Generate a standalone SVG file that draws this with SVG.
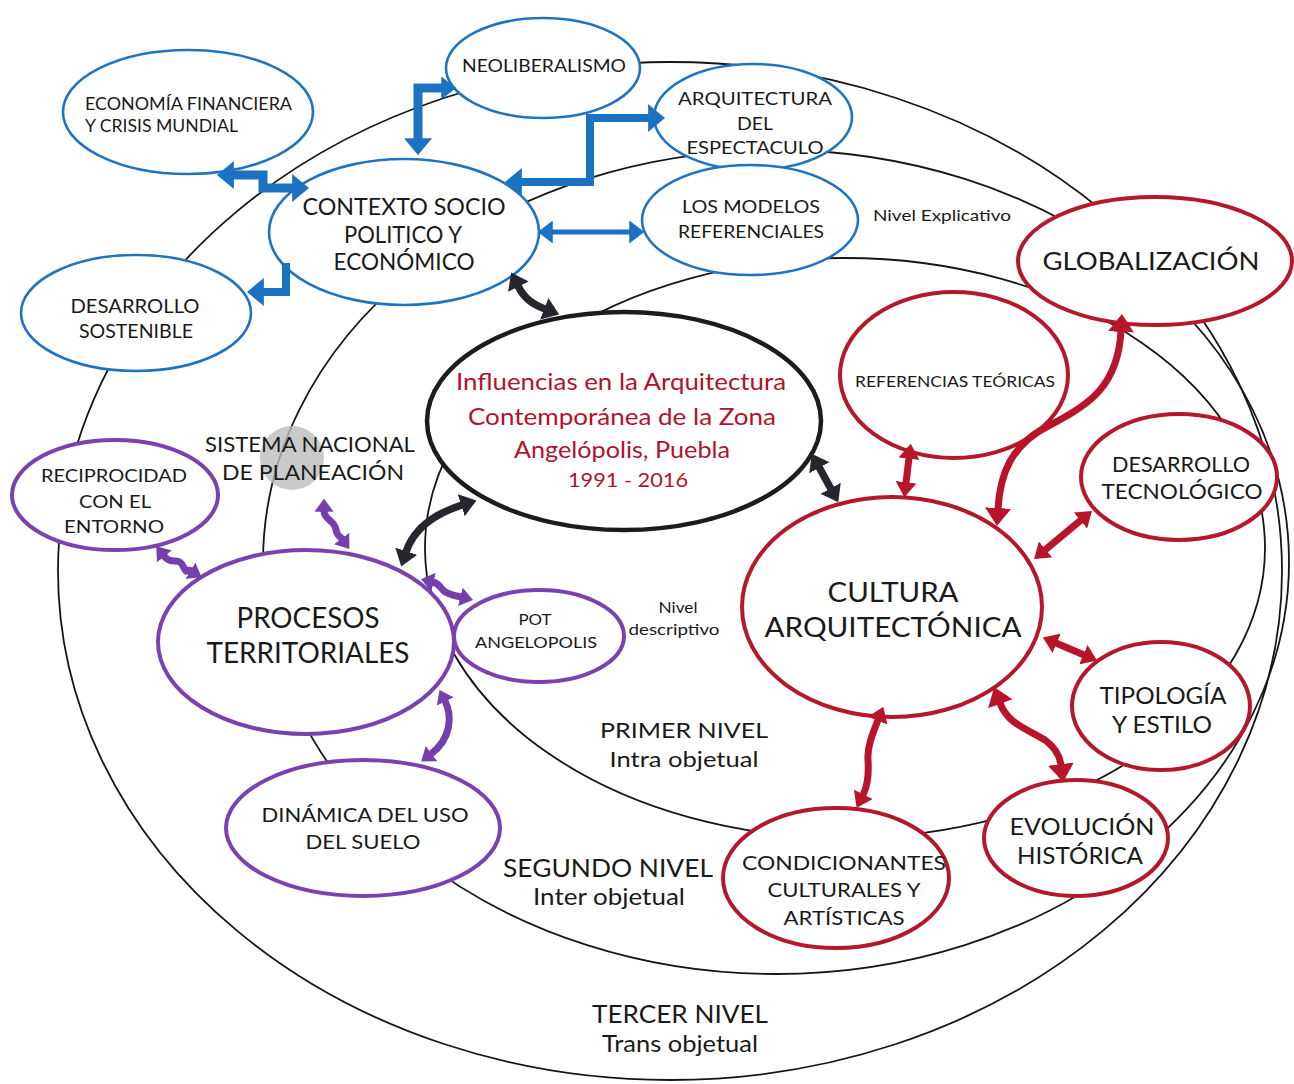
<svg xmlns="http://www.w3.org/2000/svg" width="1294" height="1084" viewBox="0 0 1294 1084">
<style>
.ring{fill:none;stroke:#161616;stroke-width:1.8}
.nb{fill:#fff;stroke:#1f74c2;stroke-width:2.6}
.nr{fill:#fff;stroke:#b5172b;stroke-width:4}
.np{fill:#fff;stroke:#7a42b0;stroke-width:4}
.nk{fill:#fff;stroke:#1c1c1c;stroke-width:4.5}
text{font-family:Lato,'Liberation Sans',sans-serif;fill:#1a1a1a;text-anchor:middle}
.red{fill:#b1122d}
.cb{fill:none;stroke:#1b72c1;stroke-linejoin:miter}
.ck{fill:none;stroke:#26262e;stroke-width:7.5}
.cp{fill:none;stroke:#7540ad;stroke-width:7}
.cr{fill:none;stroke:#b8152a;stroke-width:7}
</style>
<defs>
<marker id="ab" viewBox="0 0 10 10" refX="0.5" refY="5" markerUnits="userSpaceOnUse" markerWidth="17" markerHeight="28" orient="auto-start-reverse" preserveAspectRatio="none"><path d="M0,0 L10,5 L0,10 z" fill="#1b72c1"/></marker>
<marker id="abs" viewBox="0 0 10 10" refX="0.5" refY="5" markerUnits="userSpaceOnUse" markerWidth="15" markerHeight="23" orient="auto-start-reverse" preserveAspectRatio="none"><path d="M0,0 L10,5 L0,10 z" fill="#1b72c1"/></marker>
<marker id="ak" viewBox="0 0 10 10" refX="0.5" refY="5" markerUnits="userSpaceOnUse" markerWidth="16" markerHeight="23" orient="auto-start-reverse" preserveAspectRatio="none"><path d="M0,0 L10,5 L0,10 z" fill="#26262e"/></marker>
<marker id="ap" viewBox="0 0 10 10" refX="0.5" refY="5" markerUnits="userSpaceOnUse" markerWidth="13" markerHeight="19" orient="auto-start-reverse" preserveAspectRatio="none"><path d="M0,0 L10,5 L0,10 z" fill="#7540ad"/></marker>
<marker id="ar" viewBox="0 0 10 10" refX="0.5" refY="5" markerUnits="userSpaceOnUse" markerWidth="15" markerHeight="21" orient="auto-start-reverse" preserveAspectRatio="none"><path d="M0,0 L10,5 L0,10 z" fill="#b8152a"/></marker>
<marker id="arb" viewBox="0 0 10 10" refX="0.5" refY="5" markerUnits="userSpaceOnUse" markerWidth="18" markerHeight="26" orient="auto-start-reverse" preserveAspectRatio="none"><path d="M0,0 L10,5 L0,10 z" fill="#b8152a"/></marker>
</defs>
<rect width="1294" height="1084" fill="#fff"/>

<g id="rings">
<ellipse class="ring" cx="670" cy="571" rx="612" ry="509"/>
<ellipse class="ring" cx="776" cy="562" rx="513" ry="412"/>
<ellipse class="ring" cx="845" cy="548" rx="420" ry="290"/>
</g>

<g id="label-sistema">
<circle cx="292" cy="458" r="32" fill="#bdbdbd" fill-opacity="0.8"/>
<text x="310" y="452" font-size="21" textLength="210" lengthAdjust="spacingAndGlyphs">SISTEMA NACIONAL</text>
<text x="313" y="480" font-size="21" textLength="182" lengthAdjust="spacingAndGlyphs">DE  PLANEACIÓN</text>
</g>

<g id="level-labels">
<text x="942" y="221" font-size="16" textLength="138" lengthAdjust="spacingAndGlyphs">Nivel Explicativo</text>
<text x="678" y="613" font-size="15" textLength="39" lengthAdjust="spacingAndGlyphs">Nivel</text>
<text x="674" y="635" font-size="15" textLength="91" lengthAdjust="spacingAndGlyphs">descriptivo</text>
<text x="684" y="738" font-size="22" textLength="168" lengthAdjust="spacingAndGlyphs">PRIMER NIVEL</text>
<text x="684" y="767" font-size="22" textLength="149" lengthAdjust="spacingAndGlyphs">Intra objetual</text>
<text x="608" y="877" font-size="25" textLength="210" lengthAdjust="spacingAndGlyphs">SEGUNDO NIVEL</text>
<text x="609" y="905" font-size="24" textLength="152" lengthAdjust="spacingAndGlyphs">Inter objetual</text>
<text x="680" y="1023" font-size="25" textLength="176" lengthAdjust="spacingAndGlyphs">TERCER NIVEL</text>
<text x="680" y="1052" font-size="24" textLength="156" lengthAdjust="spacingAndGlyphs">Trans objetual</text>
</g>

<g id="node-neoliberalismo">
<ellipse class="nb" cx="543" cy="68" rx="97" ry="50"/>
<text x="544" y="72" font-size="18" textLength="164" lengthAdjust="spacingAndGlyphs">NEOLIBERALISMO</text>
</g>
<g id="node-economia">
<ellipse class="nb" cx="188" cy="112" rx="125" ry="62"/>
<text x="85" y="110" font-size="17" textLength="207" lengthAdjust="spacingAndGlyphs" style="text-anchor:start">ECONOMÍA FINANCIERA</text>
<text x="85" y="132" font-size="17" textLength="153" lengthAdjust="spacingAndGlyphs" style="text-anchor:start">Y CRISIS MUNDIAL</text>
</g>
<g id="node-contexto">
<ellipse class="nb" cx="404" cy="232" rx="135" ry="73"/>
<text x="404" y="215" font-size="23" textLength="203" lengthAdjust="spacingAndGlyphs">CONTEXTO SOCIO</text>
<text x="403" y="243" font-size="23" textLength="118" lengthAdjust="spacingAndGlyphs">POLITICO Y</text>
<text x="404" y="270" font-size="23" textLength="141" lengthAdjust="spacingAndGlyphs">ECONÓMICO</text>
</g>
<g id="node-sostenible">
<ellipse class="nb" cx="136" cy="313" rx="115" ry="58"/>
<text x="135" y="313" font-size="20" textLength="129" lengthAdjust="spacingAndGlyphs">DESARROLLO</text>
<text x="136" y="338" font-size="20" textLength="114" lengthAdjust="spacingAndGlyphs">SOSTENIBLE</text>
</g>
<g id="node-espectaculo">
<ellipse class="nb" cx="753" cy="117" rx="99" ry="53"/>
<text x="755" y="105" font-size="18" textLength="154" lengthAdjust="spacingAndGlyphs">ARQUITECTURA</text>
<text x="755" y="130" font-size="18" textLength="36" lengthAdjust="spacingAndGlyphs">DEL</text>
<text x="755" y="154" font-size="18" textLength="137" lengthAdjust="spacingAndGlyphs">ESPECTACULO</text>
</g>
<g id="node-modelos">
<ellipse class="nb" cx="750" cy="220" rx="108" ry="55"/>
<text x="751" y="213" font-size="18" textLength="138" lengthAdjust="spacingAndGlyphs">LOS MODELOS</text>
<text x="751" y="238" font-size="18" textLength="146" lengthAdjust="spacingAndGlyphs">REFERENCIALES</text>
</g>

<g id="node-globalizacion">
<ellipse class="nr" cx="1155" cy="261" rx="137" ry="64"/>
<text x="1151" y="270" font-size="25" textLength="217" lengthAdjust="spacingAndGlyphs">GLOBALIZACIÓN</text>
</g>
<g id="node-referencias">
<ellipse class="nr" cx="954" cy="375" rx="114" ry="83"/>
<text x="955" y="387" font-size="16" textLength="200" lengthAdjust="spacingAndGlyphs">REFERENCIAS TEÓRICAS</text>
</g>
<g id="node-tecnologico">
<ellipse class="nr" cx="1179" cy="477" rx="98" ry="63"/>
<text x="1181" y="472" font-size="22" textLength="138" lengthAdjust="spacingAndGlyphs">DESARROLLO</text>
<text x="1182" y="499" font-size="22" textLength="161" lengthAdjust="spacingAndGlyphs">TECNOLÓGICO</text>
</g>
<g id="node-cultura">
<ellipse class="nr" cx="892" cy="607" rx="150" ry="110"/>
<text x="893" y="602" font-size="27" textLength="131" lengthAdjust="spacingAndGlyphs">CULTURA</text>
<text x="893" y="637" font-size="27" textLength="257" lengthAdjust="spacingAndGlyphs">ARQUITECTÓNICA</text>
</g>
<g id="node-tipologia">
<ellipse class="nr" cx="1161" cy="706" rx="89" ry="64"/>
<text x="1163" y="704" font-size="23" textLength="127" lengthAdjust="spacingAndGlyphs">TIPOLOGÍA</text>
<text x="1162" y="733" font-size="23" textLength="100" lengthAdjust="spacingAndGlyphs">Y ESTILO</text>
</g>
<g id="node-evolucion">
<ellipse class="nr" cx="1076" cy="838" rx="92" ry="58"/>
<text x="1082" y="835" font-size="23" textLength="145" lengthAdjust="spacingAndGlyphs">EVOLUCIÓN</text>
<text x="1080" y="864" font-size="23" textLength="126" lengthAdjust="spacingAndGlyphs">HISTÓRICA</text>
</g>
<g id="node-condicionantes">
<ellipse class="nr" cx="836" cy="878" rx="113" ry="70"/>
<text x="844" y="870" font-size="20" textLength="204" lengthAdjust="spacingAndGlyphs">CONDICIONANTES</text>
<text x="844" y="897" font-size="20" textLength="153" lengthAdjust="spacingAndGlyphs">CULTURALES Y</text>
<text x="844" y="925" font-size="20" textLength="121" lengthAdjust="spacingAndGlyphs">ARTÍSTICAS</text>
</g>

<g id="node-reciprocidad">
<ellipse class="np" cx="115" cy="495" rx="103" ry="55"/>
<text x="114" y="482" font-size="18" textLength="146" lengthAdjust="spacingAndGlyphs">RECIPROCIDAD</text>
<text x="115" y="508" font-size="18" textLength="72" lengthAdjust="spacingAndGlyphs">CON EL</text>
<text x="114" y="533" font-size="18" textLength="100" lengthAdjust="spacingAndGlyphs">ENTORNO</text>
</g>
<g id="node-procesos">
<ellipse class="np" cx="306" cy="642" rx="148" ry="92"/>
<text x="308" y="628" font-size="28" textLength="143" lengthAdjust="spacingAndGlyphs">PROCESOS</text>
<text x="308" y="663" font-size="28" textLength="203" lengthAdjust="spacingAndGlyphs">TERRITORIALES</text>
</g>
<g id="node-pot">
<ellipse class="np" cx="539" cy="636" rx="85" ry="46"/>
<text x="535" y="625" font-size="16" textLength="33" lengthAdjust="spacingAndGlyphs">POT</text>
<text x="536" y="648" font-size="16" textLength="122" lengthAdjust="spacingAndGlyphs">ANGELOPOLIS</text>
</g>
<g id="node-dinamica">
<ellipse class="np" cx="363" cy="828" rx="137" ry="68"/>
<text x="365" y="822" font-size="19" textLength="207" lengthAdjust="spacingAndGlyphs">DINÁMICA DEL USO</text>
<text x="363" y="849" font-size="19" textLength="115" lengthAdjust="spacingAndGlyphs">DEL SUELO</text>
</g>

<g id="node-influencias">
<ellipse class="nk" cx="624" cy="421" rx="197" ry="109"/>
<text class="red" x="621" y="390" font-size="24" textLength="330" lengthAdjust="spacingAndGlyphs">Influencias  en la Arquitectura</text>
<text class="red" x="622" y="425" font-size="24" textLength="308" lengthAdjust="spacingAndGlyphs">Contemporánea de la Zona</text>
<text class="red" x="622" y="458" font-size="24" textLength="216" lengthAdjust="spacingAndGlyphs">Angelópolis, Puebla</text>
<text class="red" x="628" y="487" font-size="20" textLength="120" lengthAdjust="spacingAndGlyphs">1991 - 2016</text>
</g>

<g id="connectors">
<path class="cb" stroke-width="9" d="M442,88 H418 V139" marker-start="url(#abs)" marker-end="url(#ab)"/>
<path class="cb" stroke-width="8" d="M649,118 H590 V182 H521" marker-start="url(#ab)" marker-end="url(#ab)"/>
<path class="cb" stroke-width="9" d="M233,175 H263 V188 H293" marker-start="url(#ab)" marker-end="url(#ab)"/>
<path class="cb" stroke-width="8" d="M286,263 V292 H263" marker-end="url(#ab)"/>
<path class="cb" stroke-width="5" d="M552,232 H630" marker-start="url(#abs)" marker-end="url(#abs)"/>

<path class="ck" d="M518,286 C524,298 532,304 545,309" marker-start="url(#ak)" marker-end="url(#ak)"/>
<path class="ck" d="M462,505 C440,512 415,525 406,552" marker-start="url(#ak)" marker-end="url(#ak)"/>
<path class="ck" d="M819,467 L831,489" marker-start="url(#ak)" marker-end="url(#ak)"/>

<path class="cp" d="M164,556 C172,566 178,556 183,566 S186,568 191,571" marker-start="url(#ap)" marker-end="url(#ap)"/>
<path class="cp" d="M324,511 C324,520 335,520 336,530 C337,536 339,535 342,539" marker-start="url(#ap)" marker-end="url(#ap)"/>
<path class="cp" d="M433,582 C442,584 440,592 450,594 C455,596 457,596 461,597" marker-start="url(#ap)" marker-end="url(#ap)"/>
<path class="cp" stroke-width="8" d="M445,701 C452,715 452,738 431,754" marker-start="url(#ap)" marker-end="url(#ap)"/>

<path class="cr" d="M909,458 L906,483" marker-start="url(#ar)" marker-end="url(#ar)"/>
<path class="cr" stroke-width="10" d="M1121,331 C1118,385 1090,405 1050,425 C1010,445 1000,475 998,509" marker-start="url(#arb)" marker-end="url(#arb)"/>
<path class="cr" d="M1045,550 L1081,520" marker-start="url(#ar)" marker-end="url(#ar)"/>
<path class="cr" d="M1056,643 L1084,655" marker-start="url(#ar)" marker-end="url(#ar)"/>
<path class="cr" stroke-width="11" d="M1000,703 C1008,725 1030,730 1045,740 C1056,748 1060,757 1061,765" marker-start="url(#arb)" marker-end="url(#arb)"/>
<path class="cr" d="M878,720 C872,735 867,748 868,760 C869,775 868,785 863,795" marker-start="url(#ar)" marker-end="url(#ar)"/>
</g>
</svg>
